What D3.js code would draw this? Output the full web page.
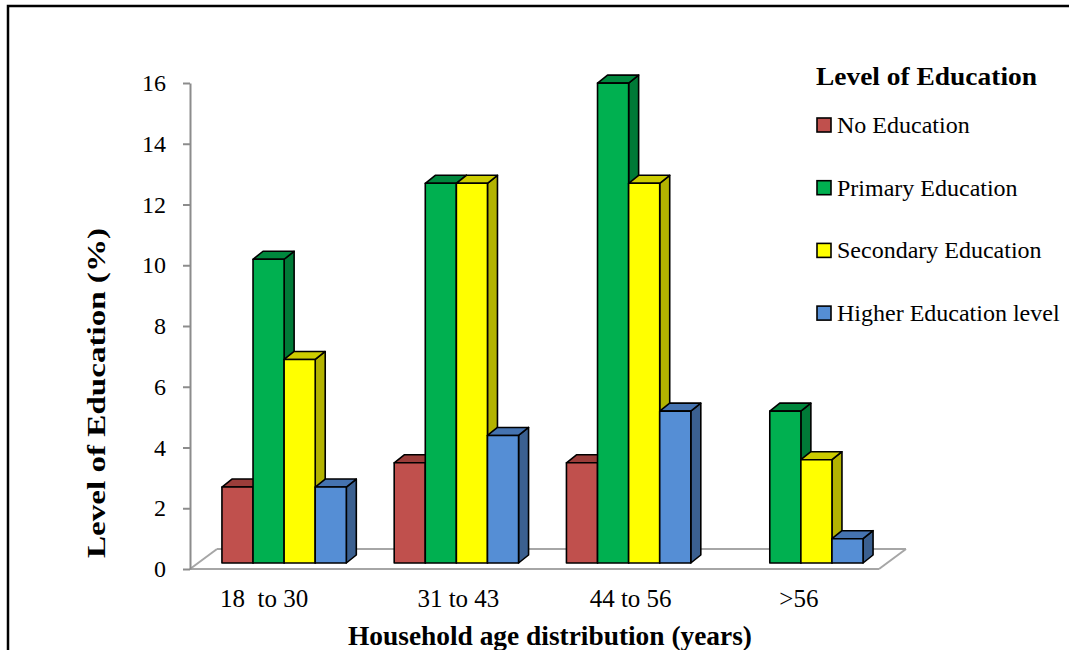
<!DOCTYPE html>
<html>
<head>
<meta charset="utf-8">
<script src="https://cdn.jsdelivr.net/npm/d3@7"></script>
<style>
  html, body { margin: 0; padding: 0; background: #fff; }
  svg { display: block; }
</style>
</head>
<body>
<svg id="chart" width="1069" height="650"></svg>
<script>
// Household age groups and the share (%) at each level of education
const categories = ["18  to 30", "31 to 43", "44 to 56", ">56"];
const seriesNames = ["No Education", "Primary Education", "Secondary Education", "Higher Education level"];
const noEducation = [2.5, 3.3, 3.3, 0];
const primaryEducation = [10, 12.5, 15.8, 5];
const secondaryEducation = [6.7, 12.5, 12.5, 3.4];
const higherEducation = [2.5, 4.2, 5.0, 0.8];
const yTicks = [0, 2, 4, 6, 8, 10, 12, 14, 16];

const seriesValues = [noEducation, primaryEducation, secondaryEducation, higherEducation];

// face colours: front, top, side
const frontColors = ["#C0504D", "#00B050", "#FFFF00", "#558ED5"];
const topColors   = ["#9B3D3A", "#00873D", "#CCCC00", "#4573B0"];
const sideColors  = ["#8A3532", "#007A37", "#B3B300", "#3B6090"];

const serif = "'Liberation Serif', 'Times New Roman', 'DejaVu Serif', serif";

const svg = d3.select("#chart");

// outer frame
svg.append("rect")
  .attr("x", 8).attr("y", 6)
  .attr("width", 1100).attr("height", 700)
  .attr("fill", "none").attr("stroke", "#000").attr("stroke-width", 2.5);

// plot geometry (front plane of the floor)
const floorLeft = 190, floorRight = 879;
const floorDepthX = 27, floorDepthY = -20;   // full floor depth
const barShiftX = 8, barShiftY = -6;         // bars sit a little behind the front edge
const barDepthX = 10, barDepthY = -8;        // bar thickness

const y = d3.scaleLinear().domain([0, 16]).range([569, 83]);

const x0 = d3.scaleBand()
  .domain(categories)
  .range([floorLeft + barShiftX, floorRight + barShiftX])
  .paddingInner(0.278)
  .paddingOuter(0.139);

const x1 = d3.scaleBand()
  .domain(seriesNames)
  .range([0, x0.bandwidth()]);

// floor outline
const gridColor = "#A6A6A6";
const y0 = y(0);
const floor = svg.append("g").attr("stroke", gridColor).attr("stroke-width", 2).attr("fill", "none");
floor.append("line").attr("x1", floorLeft).attr("y1", y0).attr("x2", floorRight).attr("y2", y0);
floor.append("line").attr("x1", floorLeft + floorDepthX).attr("y1", y0 + floorDepthY)
  .attr("x2", floorRight + floorDepthX).attr("y2", y0 + floorDepthY);
floor.append("line").attr("x1", floorLeft).attr("y1", y0)
  .attr("x2", floorLeft + floorDepthX).attr("y2", y0 + floorDepthY);
floor.append("line").attr("x1", floorRight).attr("y1", y0)
  .attr("x2", floorRight + floorDepthX).attr("y2", y0 + floorDepthY);

// y axis
const yAxis = svg.append("g")
  .attr("transform", `translate(${floorLeft},0)`)
  .call(d3.axisLeft(y).tickValues(yTicks).tickSize(7).tickSizeOuter(0).tickPadding(17).tickFormat(d3.format("d")));
yAxis.attr("font-family", null).attr("font-size", null);
yAxis.select(".domain").attr("stroke", "#8C8C8C").attr("stroke-width", 2);
yAxis.selectAll(".tick line").attr("stroke", "#8C8C8C").attr("stroke-width", 2);
yAxis.selectAll(".tick text")
  .style("font-family", serif)
  .style("font-size", "24px")
  .attr("fill", "#000");

// 3D bars
const bars = svg.append("g");
categories.forEach((cat, ci) => {
  seriesNames.forEach((name, si) => {
    const v = seriesValues[si][ci];
    if (!v) return;
    const bx = x0(cat) + x1(name);
    const bw = x1.bandwidth();
    const top = y(v) + barShiftY;
    const bottom = y(0) + barShiftY;
    const g = bars.append("g")
      .attr("stroke", "#000").attr("stroke-width", 1.6).attr("stroke-linejoin", "round");
    // side face
    g.append("polygon")
      .attr("points", [
        [bx + bw, top], [bx + bw + barDepthX, top + barDepthY],
        [bx + bw + barDepthX, bottom + barDepthY], [bx + bw, bottom]
      ].map(p => p.join(",")).join(" "))
      .attr("fill", sideColors[si]);
    // top face
    g.append("polygon")
      .attr("points", [
        [bx, top], [bx + bw, top],
        [bx + bw + barDepthX, top + barDepthY], [bx + barDepthX, top + barDepthY]
      ].map(p => p.join(",")).join(" "))
      .attr("fill", topColors[si]);
    // front face
    g.append("rect")
      .attr("x", bx).attr("y", top)
      .attr("width", bw).attr("height", bottom - top)
      .attr("fill", frontColors[si]);
  });
});

// category labels
const catLabelShift = [-20, 2, 2, -2];
svg.append("g").selectAll("text")
  .data(categories)
  .join("text")
  .attr("x", (d, i) => x0(d) + x0.bandwidth() / 2 + catLabelShift[i])
  .attr("y", 607)
  .attr("text-anchor", "middle")
  .style("font-family", serif)
  .style("font-size", "25px")
  .style("white-space", "pre")
  .text(d => d);

// axis titles
svg.append("text")
  .attr("x", 550).attr("y", 645)
  .attr("text-anchor", "middle")
  .style("font-family", serif)
  .style("font-size", "27px").style("font-weight", "bold")
  .attr("textLength", 404).attr("lengthAdjust", "spacingAndGlyphs")
  .text("Household age distribution (years)");

svg.append("text")
  .attr("transform", "translate(105,393) rotate(-90)")
  .attr("text-anchor", "middle")
  .style("font-family", serif)
  .style("font-size", "26px").style("font-weight", "bold")
  .attr("textLength", 330).attr("lengthAdjust", "spacingAndGlyphs")
  .text("Level of Education (%)");

// legend
const legend = svg.append("g");
legend.append("text")
  .attr("x", 816).attr("y", 85)
  .style("font-family", serif)
  .style("font-size", "26px").style("font-weight", "bold")
  .attr("textLength", 221).attr("lengthAdjust", "spacingAndGlyphs")
  .text("Level of Education");

const legendItems = legend.selectAll("g.item")
  .data(seriesNames)
  .join("g")
  .attr("class", "item")
  .attr("transform", (d, i) => `translate(817,${125 + i * 62.7})`);
legendItems.append("rect")
  .attr("x", 0).attr("y", -7)
  .attr("width", 14).attr("height", 14)
  .attr("fill", (d, i) => frontColors[i])
  .attr("stroke", "#000").attr("stroke-width", 1.6);
legendItems.append("text")
  .attr("x", 20).attr("y", 0).attr("dy", "0.33em")
  .style("font-family", serif)
  .style("font-size", "24px")
  .text(d => d);
</script>
</body>
</html>
